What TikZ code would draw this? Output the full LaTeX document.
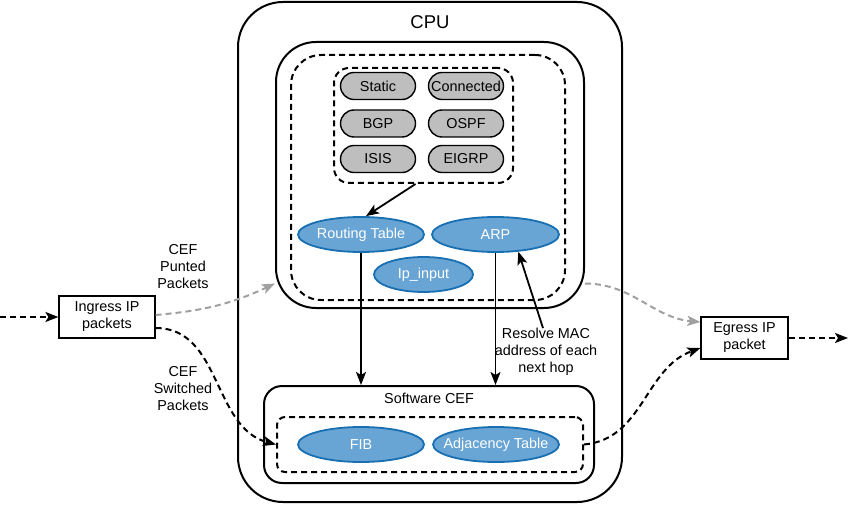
\documentclass[tikz,border=0pt]{standalone}
\usepackage{fontspec}
\setmainfont{Liberation Sans}
\usetikzlibrary{shapes, arrows.meta, positioning, calc}
\definecolor{blue1}{RGB}{104,164,212}
\definecolor{blue2}{RGB}{24,112,178}
\definecolor{gray1}{RGB}{190,190,190}
\definecolor{gray2}{RGB}{160,160,160}

\tikzset{
  zone/.style={draw, line width=2pt, rounded corners=#1},
  dzone/.style={draw, line width=2pt, dash pattern=on 6pt off 4pt, rounded corners=#1},
  proto/.style={draw, line width=1.4pt, fill=gray1, rounded corners=13.5pt, minimum width=75pt, minimum height=27pt},
  table/.style={ellipse, draw=blue2, line width=1.8pt, fill=blue1, text=white, minimum height=35pt, inner xsep=-14pt, inner ysep=-2pt},
  pkt/.style={draw, line width=1.2pt, align=center},
  arr/.style={-{Stealth[length=13pt, width=10pt, inset=3pt]}, line width=1.8pt},
  dflow/.style={arr, line width=2pt, dash pattern=on 6pt off 4pt},
  gflow/.style={dflow, draw=gray2}
}

\begin{document}
\begin{tikzpicture}[x=1pt, y=-1pt, every node/.style={font=\fontsize{14.4}{17}\selectfont, inner sep=0pt}]
  \useasboundingbox (0,0) rectangle (848,505);

  % CPU and control plane
  \node[zone=45pt, minimum width=384pt, minimum height=500pt] (cpu) at (430,252) {};
  \node (cputitle) at (430,22) {\fontsize{18.5}{22}\selectfont CPU};
  \node[zone=40pt, minimum width=308pt, minimum height=266pt] (ctl) at (430,175) {};
  \node[dzone=30pt, minimum width=274pt, minimum height=245pt] (ctlzone) at (428,177.5) {};
  \node[dzone=15pt, minimum width=179pt, minimum height=115pt] (protos) at (423.5,125.5) {};

  \node[proto] (static) at (378,86) {Static};
  \node[proto] (conn) at (466,86) {Connected};
  \node[proto] (bgp) at (378,123.5) {BGP};
  \node[proto] (ospf) at (466,123.5) {OSPF};
  \node[proto] (isis) at (378,159) {ISIS};
  \node[proto] (eigrp) at (466,159) {EIGRP};

  \node[table, minimum width=126pt] (rt) at (361,234.5) {Routing Table};
  \node[table, minimum width=127pt] (arp) at (495.5,234.5) {ARP};
  \node[table, minimum width=99pt] (ipin) at (423.5,274.5) {Ip\_input};

  % Software CEF
  \node[zone=18pt, minimum width=330pt, minimum height=97pt] (swcef) at (429,434.5) {};
  \node (swceftitle) at (429,398) {Software CEF};
  \node[dzone=8pt, minimum width=306pt, minimum height=55pt] (cefzone) at (430,444.5) {};
  \node[table, minimum width=126pt] (fib) at (361,444.5) {FIB};
  \node[table, minimum width=126pt] (adj) at (496,444.5) {Adjacency Table};

  % packets in and out
  \node[pkt, minimum width=96pt, minimum height=42pt] (ing) at (107,317) {Ingress IP\\packets};
  \node[pkt, minimum width=87pt, minimum height=42pt] (egr) at (744.5,338) {Egress IP\\packet};
  \coordinate (inL) at (0,317);
  \coordinate (outR) at (848,338);

  \node[align=center] (punted) at (183,267) {CEF\\Punted\\Packets};
  \node[align=center] (switched) at (183,389) {CEF\\Switched\\Packets};
  \node[align=center] (resolve) at (546,352) {Resolve MAC\\address of each\\next hop};

  % connectors
  \draw[arr] ([xshift=-8pt]protos.south) -- ([xshift=5pt]rt.north);
  \draw[arr] (rt.south) -- (rt.south |- swcef.north);
  \draw[arr] (arp.south) -- (arp.south |- swcef.north);
  \draw[arr] ([xshift=-3pt]resolve.north) -- (arp.-37);

  \draw[dflow] (inL) -- (ing);
  \draw[gflow] ([yshift=2pt]ing.east) to[out=5, in=205] (ctl.215);
  \draw[dflow] ([yshift=-11pt]ing.east) to[out=0, in=165] (cefzone.west);
  \draw[gflow] (ctl.-35) to[out=0, in=175] ([yshift=16pt]egr.west);
  \draw[dflow] (cefzone.east) to[out=5, in=200] ([yshift=-10pt]egr.west);
  \draw[dflow] (egr) -- (outR);
\end{tikzpicture}
\end{document}
